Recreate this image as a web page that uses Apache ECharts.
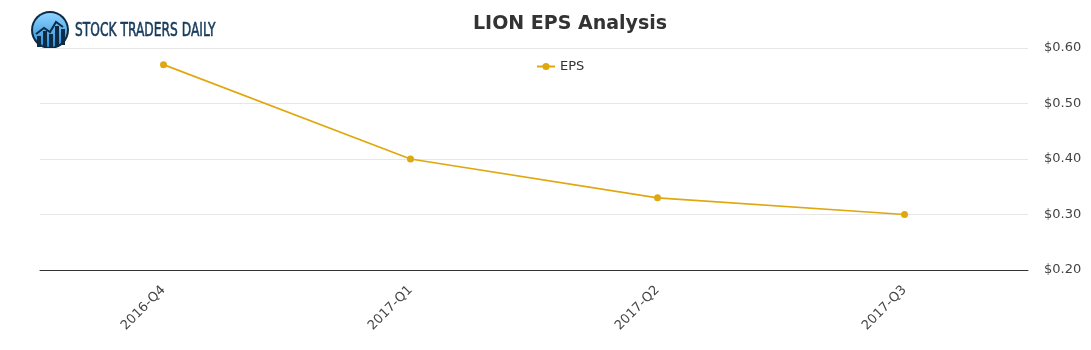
<!DOCTYPE html>
<html>
<head>
<meta charset="utf-8">
<script src="https://cdn.jsdelivr.net/npm/echarts@6/dist/echarts.min.js"></script>
<style>html,body{margin:0;padding:0;background:#fff;}#c{width:1091px;height:350px;}</style>
</head>
<body>
<div id="c"></div>
<script>
const categories = ['2016-Q4', '2017-Q1', '2017-Q2', '2017-Q3'];
const epsValues = [0.57, 0.40, 0.33, 0.30];
const yTicks = [0.2, 0.3, 0.4, 0.5, 0.6];

const chart = echarts.init(document.getElementById('c'), null, {renderer: 'canvas'});
chart.setOption({
  animation: false,
  backgroundColor: '#fff',
  title: {
    text: 'LION EPS Analysis',
    left: 468, top: 10,
    textStyle: {fontFamily: 'DejaVu Sans', fontSize: 19, fontWeight: 'bold', color: '#333'}
  },
  legend: {
    data: ['EPS'], left: 531, top: 55,
    itemWidth: 18, itemHeight: 9, itemGap: 8,
    textStyle: {fontFamily: 'DejaVu Sans', fontSize: 13, color: '#333'}
  },
  grid: {left: 40, right: 63, top: 48, bottom: 80},
  xAxis: {
    type: 'category', data: categories, boundaryGap: true,
    axisLine: {lineStyle: {color: '#333'}},
    axisTick: {show: false},
    axisLabel: {rotate: 45, fontFamily: 'DejaVu Sans', fontSize: 13, color: '#444', margin: 18}
  },
  yAxis: {
    type: 'value', position: 'right', min: yTicks[0], max: yTicks[yTicks.length-1], interval: 0.1,
    axisLine: {show: false}, axisTick: {show: false},
    splitLine: {lineStyle: {color: '#e6e6e6'}},
    axisLabel: {fontFamily: 'DejaVu Sans', fontSize: 13, color: '#444', margin: 16,
      formatter: v => '$' + v.toFixed(2)}
  },
  series: [{
    name: 'EPS', type: 'line', data: epsValues,
    color: '#e0a80f',
    symbol: 'circle', symbolSize: 7,
    lineStyle: {width: 1.7, color: '#e0a80f'},
    itemStyle: {color: '#e0a80f'}
  }],
  graphic: [
    {type: 'circle', shape: {cx: 50, cy: 30, r: 19}, style: {fill: '#0d2b45'}},
    {type: 'circle', shape: {cx: 50, cy: 30, r: 17}, style: {fill: new echarts.graphic.LinearGradient(0,0,0,1,[{offset:0,color:'#8fd3ff'},{offset:1,color:'#2a8fd8'}])}},
    {type: 'rect', shape: {x: 37, y: 36, width: 4, height: 11}, style: {fill: '#0d2b45'}},
    {type: 'rect', shape: {x: 43, y: 31, width: 4, height: 16}, style: {fill: '#0d2b45'}},
    {type: 'rect', shape: {x: 49, y: 34, width: 4, height: 13}, style: {fill: '#0d2b45'}},
    {type: 'rect', shape: {x: 55, y: 26, width: 4, height: 21}, style: {fill: '#0d2b45'}},
    {type: 'rect', shape: {x: 61, y: 29, width: 4, height: 16}, style: {fill: '#0d2b45'}},
    {type: 'polyline', shape: {points: [[36,34],[44,28],[50,32],[56,22],[63,27]]}, style: {stroke: '#0d2b45', lineWidth: 2, fill: null}},
    {type: 'text', x: 75, y: 22, scaleX: 0.645, scaleY: 1,
      style: {text: 'STOCK TRADERS DAILY', fill: '#163a5c', stroke: '#163a5c', lineWidth: 0.6,
      font: '19px "DejaVu Sans", sans-serif'}}
  ]
});
</script>
</body>
</html>
